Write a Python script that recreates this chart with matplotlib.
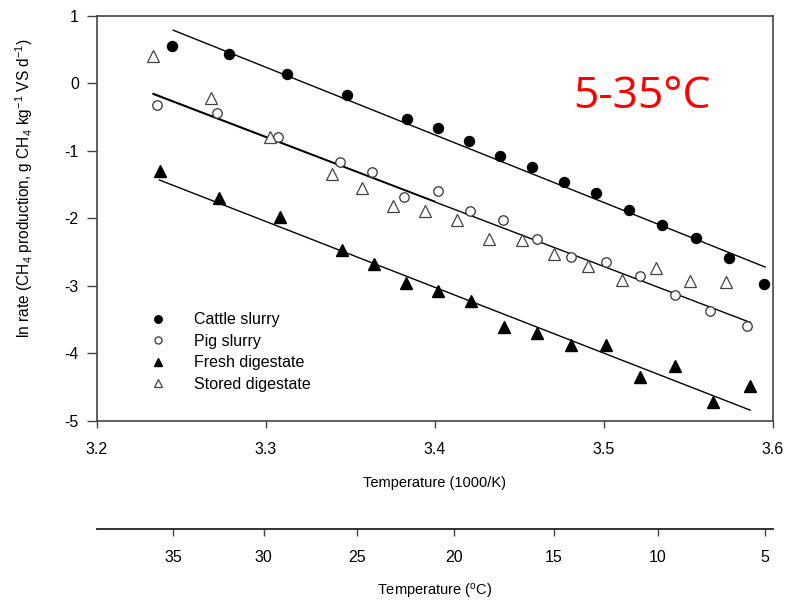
import numpy as np
import matplotlib
matplotlib.use("Agg")
import matplotlib.pyplot as plt

plt.rcParams['font.family'] = ['Liberation Sans', 'DejaVu Sans']
plt.rcParams['mathtext.default'] = 'regular'
plt.rcParams['axes.unicode_minus'] = False

# data (x = 1000/K, y = ln rate)
cattle_x = [3.2446, 3.2780, 3.3122, 3.3477, 3.3832, 3.4016, 3.4201, 3.4386,
            3.4572, 3.4763, 3.4954, 3.5148, 3.5345, 3.5544, 3.5740, 3.5949]
cattle_y = [0.55, 0.43, 0.14, -0.17, -0.53, -0.66, -0.85, -1.07,
            -1.24, -1.46, -1.62, -1.87, -2.10, -2.29, -2.58, -2.97]

pig_x = [3.2353, 3.2708, 3.3069, 3.3438, 3.3625, 3.3818, 3.4016, 3.4207,
         3.4404, 3.4601, 3.4803, 3.5010, 3.5213, 3.5420, 3.5629, 3.5844]
pig_y = [-0.32, -0.44, -0.80, -1.16, -1.31, -1.68, -1.60, -1.89,
         -2.02, -2.30, -2.57, -2.65, -2.85, -3.14, -3.37, -3.60]

fresh_x = [3.2373, 3.2722, 3.3086, 3.3448, 3.3641, 3.3826, 3.4016, 3.4213,
           3.4408, 3.4605, 3.4803, 3.5010, 3.5213, 3.5420, 3.5647, 3.5864]
fresh_y = [-1.29, -1.69, -1.98, -2.47, -2.67, -2.96, -3.07, -3.23,
           -3.61, -3.70, -3.88, -3.87, -4.35, -4.18, -4.72, -4.49]

stored_x = [3.2333, 3.2675, 3.3024, 3.3389, 3.3570, 3.3753, 3.3941, 3.4128,
            3.4321, 3.4513, 3.4706, 3.4903, 3.5104, 3.5306, 3.5509, 3.5720]
stored_y = [0.41, -0.21, -0.79, -1.34, -1.55, -1.81, -1.89, -2.02,
            -2.30, -2.32, -2.53, -2.70, -2.91, -2.74, -2.93, -2.94]

# regression lines (end points)
cattle_line_x, cattle_line_y = [3.2451, 3.5953], [0.79, -2.72]
pig_line_x, pig_line_y = [3.2333, 3.5864], [-0.16, -3.54]
fresh_line_x, fresh_line_y = [3.2369, 3.5864], [-1.43, -4.84]
stored_line_x, stored_line_y = [3.2333, 3.4000], [-0.148, -1.748]

x_ticks = [3.2, 3.3, 3.4, 3.5, 3.6]
y_ticks = [-5, -4, -3, -2, -1, 0, 1]
celsius_ticks = [35, 30, 25, 20, 15, 10, 5]

axis_col = '#444444'

fig = plt.figure(figsize=(7.88, 6.03), dpi=100)
ax = fig.add_axes([0.123, 0.302, 0.858, 0.6715])

for lx, ly in [(cattle_line_x, cattle_line_y), (pig_line_x, pig_line_y),
               (fresh_line_x, fresh_line_y), (stored_line_x, stored_line_y)]:
    ax.plot(lx, ly, '-', color='black', lw=1.0, zorder=2)

ax.plot(cattle_x, cattle_y, 'o', ms=7.2, mfc='black', mec='black',
        ls='none', label='Cattle slurry', zorder=3)
ax.plot(pig_x, pig_y, 'o', ms=6.8, mfc='white', mec='#333333', mew=0.9,
        ls='none', label='Pig slurry', zorder=3)
ax.plot(fresh_x, fresh_y, '^', ms=8.5, mfc='black', mec='black',
        ls='none', label='Fresh digestate', zorder=3)
ax.plot(stored_x, stored_y, '^', ms=8.5, mfc='white', mec='#444444', mew=0.9,
        ls='none', label='Stored digestate', zorder=3)

ax.set_xlim(3.2, 3.6)
ax.set_ylim(-5, 1)
ax.set_xticks(x_ticks)
ax.set_xticklabels([f'{t:.1f}' for t in x_ticks])
ax.set_yticks(y_ticks)
ax.set_yticklabels([str(t) for t in y_ticks])
ax.tick_params(axis='x', direction='out', length=5, width=1, color=axis_col,
               pad=10, labelsize=11.5)
ax.tick_params(axis='y', direction='out', length=7, width=1, color=axis_col,
               pad=6, labelsize=11.5)
for s in ax.spines.values():
    s.set_color(axis_col)
    s.set_linewidth(1.2)

ax.set_xlabel('Temperature (1000/K)', fontsize=10.5, labelpad=14)
ax.set_ylabel('ln rate (CH$_4$ production, g CH$_4$ kg$^{-1}$ VS d$^{-1}$)',
              fontsize=11.2)
ax.yaxis.set_label_coords(-0.092, 0.575)

leg = ax.legend(loc='upper left', bbox_to_anchor=(0.066, 0.268), frameon=False,
                fontsize=11.5, handlelength=2.0, handletextpad=1.3,
                labelspacing=0.40, borderpad=0, borderaxespad=0, markerscale=0.75)


def to_celsius(x):
    x = np.asarray(x, dtype=float)
    with np.errstate(divide='ignore', invalid='ignore'):
        return 1000.0 / x - 273.15


def to_inv_k(t):
    t = np.asarray(t, dtype=float)
    with np.errstate(divide='ignore', invalid='ignore'):
        return 1000.0 / (t + 273.15)


sec = ax.secondary_xaxis(-0.267, functions=(to_celsius, to_inv_k))
sec.set_xticks(celsius_ticks)
sec.set_xticklabels([str(t) for t in celsius_ticks])
sec.tick_params(axis='x', direction='out', length=5, width=1, color=axis_col,
                pad=10, labelsize=11.5)
sec.spines['bottom'].set_color('#222222')
sec.spines['bottom'].set_linewidth(1.3)
sec.set_xlabel('Temperature ($^{o}$C)', fontsize=10.5, labelpad=12)

fig.text(0.814, 0.821, '5-35°C', color='red', fontsize=32,
         family=['Open Sans', 'DejaVu Sans'], ha='center', va='baseline')

fig.savefig('out.png', dpi=100)
